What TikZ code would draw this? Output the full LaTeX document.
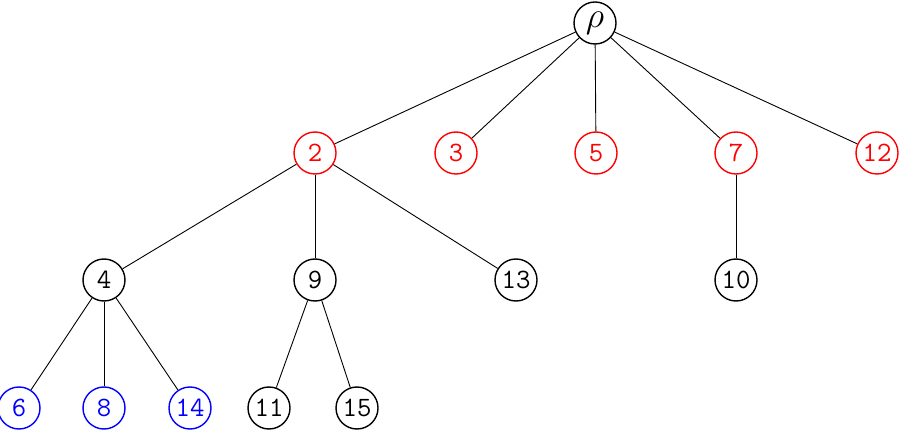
\documentclass[tikz,border=0pt]{standalone}
\begin{document}
\begin{tikzpicture}[x=1pt,y=-1pt,
  vtx/.style={circle,draw,line width=1.4pt,minimum size=42pt,inner sep=0pt,font=\fontsize{28}{34}\selectfont\ttfamily},
  rv/.style={vtx,draw=red,text=red},
  bv/.style={vtx,draw=blue,text=blue},
  edge/.style={line width=0.9pt}]
\useasboundingbox (0,0) rectangle (904,435);
\node[vtx] (r) at (595,23) {\scalebox{1.45}{$\rho$}};
\node[rv] (n2) at (315,153) {2};
\node[rv] (n3) at (456,153) {3};
\node[rv] (n5) at (596,153) {5};
\node[rv] (n7) at (736,153) {7};
\node[rv] (n12) at (877,153) {12};
\node[vtx] (n4) at (104,280) {4};
\node[vtx] (n9) at (315,280) {9};
\node[vtx] (n13) at (516,280) {13};
\node[vtx] (n10) at (736,280) {10};
\node[bv] (n6) at (19,408) {6};
\node[bv] (n8) at (104,408) {8};
\node[bv] (n14) at (190,408) {14};
\node[vtx] (n11) at (269,408) {11};
\node[vtx] (n15) at (357,408) {15};
\foreach \a/\b in {r/n2,r/n3,r/n5,r/n7,r/n12,n2/n4,n2/n9,n2/n13,n7/n10,n4/n6,n4/n8,n4/n14,n9/n11,n9/n15}
  \draw[edge] (\a) -- (\b);
\end{tikzpicture}
\end{document}
